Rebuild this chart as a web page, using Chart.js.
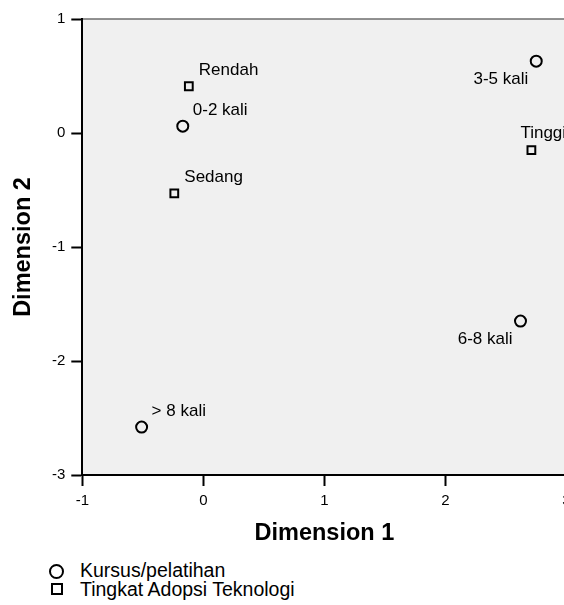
<!DOCTYPE html>
<html>
<head>
<meta charset="utf-8">
<script src="https://cdn.jsdelivr.net/npm/chart.js@4/dist/chart.umd.min.js"></script>
<style>
  html, body { margin:0; padding:0; background:#fff; overflow:hidden; width:564px; height:605px; }
  #wrap { position:absolute; left:0; top:0; width:574px; height:552px; }
  .leg { position:absolute; font-family:"Liberation Sans", Arial, sans-serif; font-size:19.5px; color:#000; line-height:20px; white-space:nowrap; }
  .sym { position:absolute; box-sizing:border-box; border:2px solid #000; }
</style>
</head>
<body>
<div id="wrap"><canvas id="c" width="574" height="552"></canvas></div>
<div class="sym" style="left:49px;top:564px;width:15px;height:15px;border-radius:50%;"></div>
<div class="leg" id="leg1" style="left:80px;top:560px;"></div>
<div class="sym" style="left:51px;top:583px;width:12px;height:12px;"></div>
<div class="leg" id="leg2" style="left:80px;top:579px;"></div>
<script>
// ---- data ----
const seriesNames = ['Kursus/pelatihan', 'Tingkat Adopsi Teknologi'];
const kursusCategories = ['0-2 kali', '3-5 kali', '6-8 kali', '> 8 kali'];
const kursusDim1 = [-0.17, 2.75, 2.62, -0.51];
const kursusDim2 = [0.06, 0.63, -1.65, -2.58];
const adopsiCategories = ['Rendah', 'Sedang', 'Tinggi'];
const adopsiDim1 = [-0.12, -0.24, 2.71];
const adopsiDim2 = [0.41, -0.53, -0.15];
const xTicks = [-1, 0, 1, 2, 3];
const yTicks = [-3, -2, -1, 0, 1];
const xTitle = 'Dimension 1';
const yTitle = 'Dimension 2';

document.getElementById('leg1').textContent = seriesNames[0];
document.getElementById('leg2').textContent = seriesNames[1];

const FONT = '"Liberation Sans", Arial, sans-serif';

const bgPlugin = {
  id: 'bgPlugin',
  beforeDraw(chart) {
    const {ctx, chartArea: a} = chart;
    ctx.save();
    ctx.fillStyle = '#f0f0f0';
    ctx.fillRect(a.left, a.top, a.right - a.left, a.bottom - a.top);
    ctx.strokeStyle = '#6e6e6e';
    ctx.lineWidth = 1.5;
    ctx.beginPath();
    ctx.moveTo(a.left, a.top);
    ctx.lineTo(a.right + 5, a.top);
    ctx.stroke();
    ctx.restore();
  }
};

const labelPlugin = {
  id: 'pointLabels',
  afterDatasetsDraw(chart, args, opts) {
    const {ctx} = chart;
    ctx.save();
    ctx.font = '17px ' + FONT;
    ctx.fillStyle = '#000';
    ctx.textBaseline = 'middle';
    chart.data.datasets.forEach((ds, di) => {
      const meta = chart.getDatasetMeta(di);
      const place = opts.placement[di];
      meta.data.forEach((pt, i) => {
        const p = place[i];
        let dx, dy, align;
        if (p === 'ne') { dx = 10; dy = -16; align = 'left'; }
        else if (p === 'sw') { dx = -8; dy = 18; align = 'right'; }
        else { dx = -11; dy = -17; align = 'left'; }
        ctx.textAlign = align;
        ctx.fillText(ds.labels[i], pt.x + dx, pt.y + dy);
      });
    });
    ctx.restore();
  }
};

new Chart(document.getElementById('c'), {
  type: 'scatter',
  data: {
    datasets: [
      {
        label: seriesNames[0],
        labels: kursusCategories,
        data: kursusDim1.map((x, i) => ({x, y: kursusDim2[i]})),
        pointStyle: 'circle',
        pointRadius: 5.5,
        pointHoverRadius: 5.5,
        borderWidth: 2,
        borderColor: '#000',
        backgroundColor: 'rgba(0,0,0,0)'
      },
      {
        label: seriesNames[1],
        labels: adopsiCategories,
        data: adopsiDim1.map((x, i) => ({x, y: adopsiDim2[i]})),
        pointStyle: 'rect',
        pointRadius: 5.5,
        pointHoverRadius: 5.5,
        borderWidth: 2,
        borderColor: '#000',
        backgroundColor: 'rgba(0,0,0,0)'
      }
    ]
  },
  options: {
    responsive: false,
    animation: false,
    events: [],
    layout: { padding: { top: 19, right: 1.2, left: 0, bottom: 0 } },
    plugins: {
      legend: { display: false },
      tooltip: { enabled: false },
      pointLabels: { placement: [['ne', 'sw', 'sw', 'ne'], ['ne', 'ne', 'nw']] }
    },
    scales: {
      x: {
        type: 'linear',
        min: -1, max: 3,
        afterBuildTicks(s) { s.ticks = xTicks.map(v => ({value: v})); },
        afterFit(s) { s.height = 77; s.paddingLeft = 0; s.paddingRight = 0; },
        grid: { drawOnChartArea: false, drawTicks: true, tickLength: 11, tickWidth: 2, tickColor: '#000' },
        border: { display: true, color: '#000', width: 2 },
        ticks: { color: '#000', font: { family: FONT, size: 15 }, padding: 6, maxRotation: 0 },
        title: { display: true, text: xTitle, color: '#000', font: { family: FONT, size: 23.5, weight: 'bold' }, padding: { top: 0, bottom: 4.2 } }
      },
      y: {
        type: 'linear',
        min: -3, max: 1,
        afterBuildTicks(s) { s.ticks = yTicks.map(v => ({value: v})); },
        afterFit(s) { s.width = 82.3; s.paddingTop = 0; s.paddingBottom = 0; },
        grid: { drawOnChartArea: false, drawTicks: true, tickLength: 11, tickWidth: 2, tickColor: '#000' },
        border: { display: true, color: '#000', width: 2 },
        ticks: { color: '#000', font: { family: FONT, size: 15 }, padding: 6 },
        title: { display: true, text: yTitle, color: '#000', font: { family: FONT, size: 23.5, weight: 'bold' }, padding: { top: 9.6, bottom: 0 } }
      }
    }
  },
  plugins: [bgPlugin, labelPlugin]
});
</script>
</body>
</html>
